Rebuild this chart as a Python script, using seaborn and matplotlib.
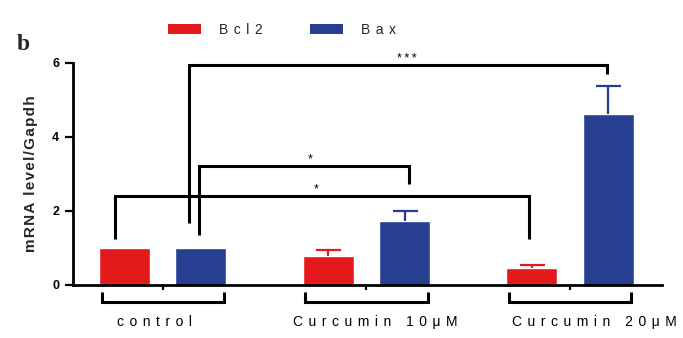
import matplotlib
matplotlib.use("Agg")
import matplotlib.pyplot as plt
import numpy as np
import pandas as pd
import seaborn as sns
from matplotlib.patches import Patch

# ---- data -------------------------------------------------------------
groups = ["control", "Curcumin 10\u03bcM", "Curcumin 20\u03bcM"]
genes = ["Bcl2", "Bax"]
bcl2_mean = [1.00, 0.78, 0.46]
bcl2_err = [0.00, 0.17, 0.08]
bax_mean = [1.00, 1.73, 4.62]
bax_err = [0.00, 0.27, 0.76]
yticks = [0, 2, 4, 6]
sig_labels = ["***", "*", "*"]

RED = "#E3191C"
BLUE = "#263F91"
SANS = ["Liberation Sans", "DejaVu Sans"]


def spaced(s, gap="\u2009\u2009"):
    """Widely tracked text, as in the original figure style."""
    return gap.join(s)


sns.set_style("white")
plt.rcParams["font.family"] = SANS

df = pd.DataFrame({
    "group": groups * 2,
    "gene": [genes[0]] * len(groups) + [genes[1]] * len(groups),
    "value": bcl2_mean + bax_mean,
})

fig = plt.figure(figsize=(6.83, 3.38), dpi=100)
ax = fig.add_axes([0.107, 0.157, 0.862, 0.657])

sns.barplot(data=df, x="group", y="value", hue="gene", hue_order=genes,
            order=groups, palette=[RED, BLUE], width=0.75, gap=0.333,
            saturation=1, errorbar=None, legend=False, ax=ax)

# upward-only error bars, drawn at each bar's centre
bars = sorted(ax.patches, key=lambda p: p.get_x())
errs = [e for pair in zip(bcl2_err, bax_err) for e in pair]
cols = [RED, BLUE] * len(groups)
for p, e, c in zip(bars, errs, cols):
    if e <= 0:
        continue
    xc = p.get_x() + p.get_width() / 2
    _, caps, _ = ax.errorbar([xc], [p.get_height()], yerr=[[0], [e]],
                             fmt="none", ecolor=c, elinewidth=1.6, capsize=9,
                             capthick=1.6, zorder=3)
    caps[0].set_visible(False)  # no cap at the bar top

ax.set_xlim(-0.44, 2.45)
ax.set_ylim(0, 6)
ax.set_yticks(yticks)
ax.set_yticklabels([str(t) for t in yticks], fontweight="bold", fontsize=9)
ax.set_xticks(range(len(groups)))
ax.set_xticklabels([])
ax.set_xlabel("")
ax.set_ylabel(spaced("mRNA level/Gapdh", "\u200a"), fontweight="bold",
              fontsize=11, labelpad=10)

# group names sit under their brackets, each nudged a little sideways
label_shift = [-0.04, 0.044, 0.118]
for i, (g, dx) in enumerate(zip(groups, label_shift)):
    ax.text(i + dx, -0.167, spaced(g), transform=ax.get_xaxis_transform(),
            ha="center", va="center", fontsize=10, color="black")

for s in ["top", "right"]:
    ax.spines[s].set_visible(False)
for s in ["left", "bottom"]:
    ax.spines[s].set_linewidth(2.0)
    ax.spines[s].set_color("black")
ax.spines["left"].set_bounds(0, 6)
ax.tick_params(axis="y", direction="out", length=6, width=1.6, pad=4,
               left=True, colors="black")
ax.tick_params(axis="x", direction="out", length=3.5, width=1.6,
               bottom=True, colors="black")

# group brackets below the axis
lw = 2.2
for i in range(len(groups)):
    ax.plot([i - 0.30, i - 0.30, i + 0.30, i + 0.30],
            [-0.19, -0.46, -0.46, -0.19], color="black", lw=lw,
            clip_on=False, solid_capstyle="butt", solid_joinstyle="miter")

# significance brackets: (x left, x right, y top, y left end, y right end, star x)
sig = [
    (0.127, 2.18, 5.95, 1.68, 5.70, 1.20),
    (0.176, 1.21, 3.22, 1.35, 2.73, 0.725),
    (-0.235, 1.80, 2.41, 1.24, 1.24, 0.755),
]
for (x0, x1, top, y0, y1, xs), lab in zip(sig, sig_labels):
    ax.plot([x0, x0, x1, x1], [y0, top, top, y1], color="black", lw=lw,
            clip_on=False, solid_joinstyle="miter", solid_capstyle="butt")
    ax.text(xs, top, spaced(lab, "\u2009"), ha="center", va="bottom",
            fontsize=9, color="black", clip_on=False)

handles = [Patch(facecolor=RED, edgecolor="none"),
           Patch(facecolor=BLUE, edgecolor="none")]
fig.legend(handles, [spaced(g) for g in genes], loc="center",
           bbox_to_anchor=(0.413, 0.912), ncol=2, frameon=False, fontsize=10,
           handlelength=2.4, handleheight=0.75, handletextpad=1.3,
           columnspacing=3.4)

fig.text(0.034, 1 - 45 / 338, "b", fontsize=17, fontweight="bold",
         family=["Liberation Serif", "DejaVu Serif"], ha="center", va="center")

fig.savefig("out.png", dpi=100)
